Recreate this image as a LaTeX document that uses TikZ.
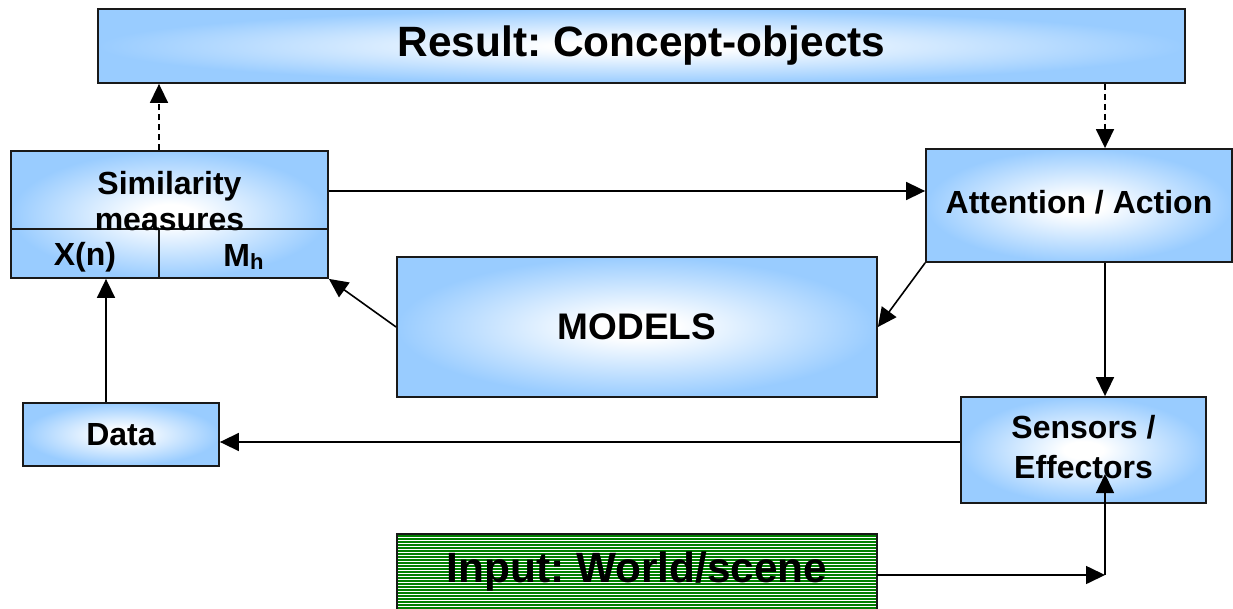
\documentclass[tikz,border=0pt]{standalone}
\usepackage{fontspec}
\setmainfont{Liberation Sans}
\usetikzlibrary{arrows.meta}
\definecolor{boxblue}{RGB}{153,204,255}
\definecolor{inputgreen}{RGB}{0,128,0}
\pgfdeclareradialshading{boxglow}{\pgfpoint{0bp}{0bp}}{%
  color(0bp)=(white); color(4bp)=(white); color(25bp)=(boxblue); color(50bp)=(boxblue)}
\tikzset{
  blockbox/.style={draw=black!90, line width=1.8pt, shading=boxglow, rectangle,
    inner sep=0pt, font=\bfseries\fontsize{32}{36}\selectfont, align=center},
  arr/.style={line width=1.6pt, -{Triangle[length=19pt,width=18pt]}},
  dasharr/.style={arr, dash pattern=on 6pt off 4pt},
}
\frenchspacing
\begin{document}
\begin{tikzpicture}[x=1pt,y=-1pt]
\useasboundingbox (0,0) rectangle (1233,609);

% helper coordinates for the arrow columns and rows
\coordinate (colR) at (1105,300);
\coordinate (colS) at (159,100);
\coordinate (colD) at (106,300);
\coordinate (rowA) at (600,191);
\coordinate (rowD) at (600,442);
\coordinate (corner) at (1105,575);
\coordinate (sensIn) at (1105,474);

% blocks
\node[blockbox, minimum width=1087pt, minimum height=74pt,
      font=\bfseries\fontsize{42.4}{48}\selectfont] (result) at (641.5,46) {Result: Concept-objects};
\node[blockbox, minimum width=317pt, minimum height=127pt] (sim) at (169.5,214.5) {};
\node[blockbox, minimum width=306pt, minimum height=113pt] (att) at (1079,205.5) {};
\node[font=\bfseries\fontsize{32}{36}\selectfont] (atttxt) at (1079,202) {Attention / Action};
\node[blockbox, minimum width=480pt, minimum height=140pt, font=\bfseries\fontsize{37}{42}\selectfont] (models) at (637,327) {MODELS};
\node[blockbox, minimum width=245pt, minimum height=106pt] (sens) at (1083.5,450) {};
\node[blockbox, minimum width=196pt, minimum height=63pt] (data) at (121,434.5) {Data};

% similarity block: dividers and labels
\draw[black!90, line width=1.8pt] (sim.west |- 0,229) -- (sim.east |- 0,229);
\draw[black!90, line width=1.8pt] (159,229) -- (159,278);
\node[font=\bfseries\fontsize{32}{36}\selectfont, align=center] (simtxt) at (169.5,201) {Similarity\\[0pt]measures};
\node[font=\bfseries\fontsize{32}{36}\selectfont] (xn) at (85,257) {X(n)};
\node[font=\bfseries\fontsize{32}{36}\selectfont] (mh) at (243.5,257) {M{\fontsize{22}{24}\selectfont\raisebox{-3pt}{h}}};
\node[font=\bfseries\fontsize{32}{36}\selectfont, align=center] (senstxt) at (1083.5,447) {Sensors /\\[4pt]Effectors};

% input block: green with thin white horizontal stripes
\fill[inputgreen] (397,534) rectangle (877,611);
\foreach \yy in {537.5,540.5,...,609.5}
  \draw[white, line width=0.9pt] (398,\yy) -- (876,\yy);
\draw[black!90, line width=1.8pt] (397,611) -- (397,534) -- (877,534) -- (877,611);
\node[font=\bfseries\fontsize{42.4}{48}\selectfont, inner sep=0pt] (input) at (637,571.5) {Input: World/scene};
\coordinate (inputE) at (877,575);

% connectors
\draw[dasharr] (sim.north -| colS) -- (result.south -| colS);
\draw[dasharr] (result.south -| colR) -- (att.north -| colR);
\draw[arr] (sim.east |- rowA) -- (att.west |- rowA);
\draw[arr] (att.south west) -- (models.east);
\draw[arr] (models.west) -- (sim.south east);
\draw[arr] (att.south -| colR) -- (sens.north -| colR);
\draw[arr] (sens.west |- rowD) -- (data.east |- rowD);
\draw[arr] (data.north -| colD) -- (sim.south -| colD);
\draw[arr] (inputE) -- (corner);
\draw[arr] (corner) -- (sensIn);
\end{tikzpicture}
\end{document}
